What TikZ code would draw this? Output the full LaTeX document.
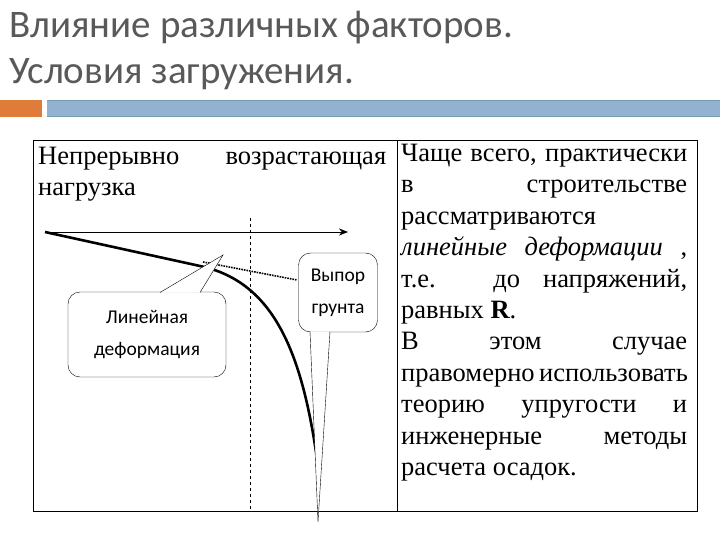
\documentclass[tikz,border=0pt]{standalone}
\usepackage{fontspec}
\setmainfont{Liberation Serif}
\newfontfamily\titlefont{Carlito}
\usetikzlibrary{positioning, arrows.meta}
\definecolor{titlegray}{RGB}{89,89,89}
\definecolor{barorange}{RGB}{224,124,58}
\definecolor{barblue}{RGB}{147,177,209}
\definecolor{baredge}{RGB}{118,156,176}

\begin{document}
\begin{tikzpicture}[x=1pt, y=-1pt,
        titletext/.style={anchor=base west, inner sep=0pt, text=titlegray,
            font=\titlefont\fontsize{39}{47}\selectfont},
        bodytext/.style={anchor=north west, inner sep=0pt, align=justify,
            font=\fontsize{26.5}{31.4}\selectfont},
        callout/.style={draw, thin, fill=white, rounded corners=12pt, align=center,
            font=\titlefont\fontsize{19.5}{32}\selectfont}]
        \useasboundingbox (0,0) rectangle (720,540);

        % title
        \node[titletext] (title1) at (9,37.5) {Влияние различных факторов.};
        \node[titletext] (title2) at (9,83.5) {Условия загружения.};

        % bar under the title
        \fill[barorange] (0,100) rectangle (42,117);
        \fill[barblue] (47,100) rectangle (720,117);
        \draw[baredge] (47,100.5) -- (720,100.5);
        \draw[baredge] (47,116.5) -- (720,116.5);

        % table frame
        \draw (33,140) rectangle (697,511);
        \draw (397,140) -- (397,511);

        \node[bodytext, text width=348pt] (load) at (38,147)
            {Непрерывно возрастающая\linebreak нагрузка};
        \node[bodytext, text width=286pt] (note) at (401,144)
            {Чаще всего, практически\linebreak в строительстве\linebreak
             рассматриваются\linebreak \textit{линейные деформации} ,\linebreak
             т.е. до напряжений,\linebreak равных \textbf{R}.\par
             В этом случае\linebreak правомерно использовать\linebreak
             теорию упругости и\linebreak инженерные методы\linebreak
             расчета осадок.};

        % load axis and limit line
        \coordinate (origin) at (45,232);
        \coordinate (axisend) at (348,232);
        \draw[-{Stealth[length=9pt, width=7pt]}] (origin) -- (axisend);
        \draw[dashed] (250,218) -- (250,511);

        % settlement curve
        \coordinate (bend) at (200,266);
        \coordinate (curveend) at (316,452);
        \draw[densely dotted, line width=1.6pt] (203,262) -- (297,280);
        \draw[line width=2.6pt] (origin) -- (bend)
            .. controls (270,281) and (300,345) .. (curveend);

        % callouts
        \node[callout, minimum width=158pt, minimum height=85pt] (linear) at (147,334.5)
            {Линейная\\деформация};
        \coordinate (lintip) at (223,255);
        \coordinate (linleft) at (160,292.5);
        \coordinate (linright) at (200,292.5);
        \fill[white] (linleft) -- (lintip) -- (linright) -- cycle;
        \draw[thin] (linleft) -- (lintip) -- (linright);

        \node[callout, minimum width=79pt, minimum height=79pt] (heave) at (338,292.5)
            {Выпор\\грунта};
        \coordinate (heavetip) at (318,522);
        \coordinate (heaveleft) at (310,331.5);
        \coordinate (heaveright) at (330,331.5);
        \fill[white] (heaveleft) -- (heavetip) -- (heaveright) -- cycle;
        \draw[thin] (heaveleft) -- (heavetip) -- (heaveright);
    \end{tikzpicture}
\end{document}
